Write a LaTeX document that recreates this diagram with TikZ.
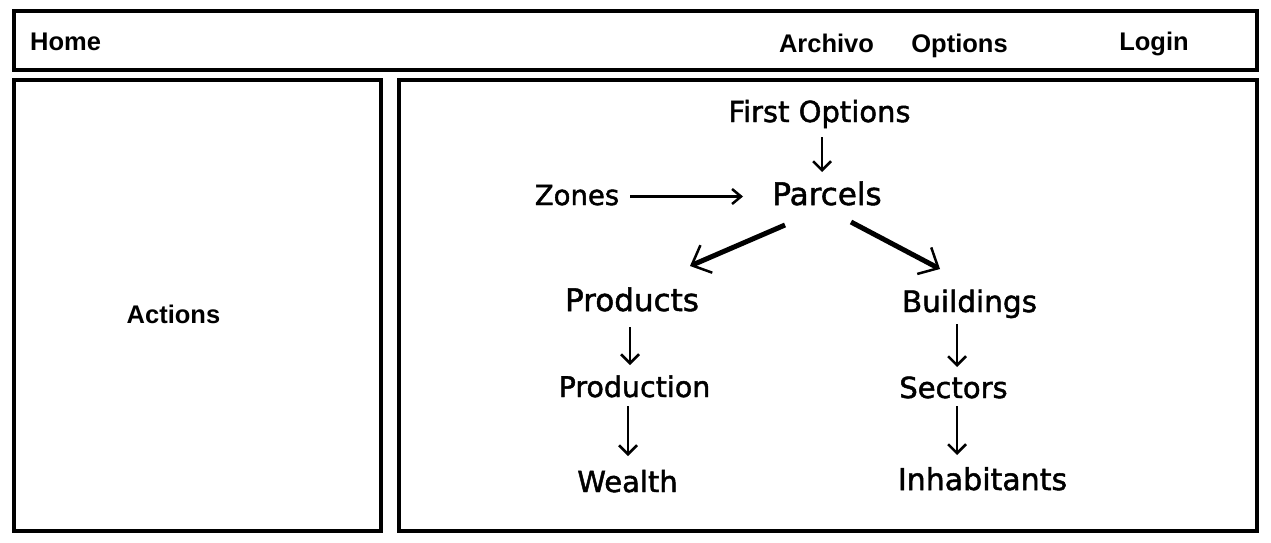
\documentclass[tikz,border=0pt]{standalone}
\usepackage{fontspec}
\setmainfont{DejaVu Sans}[FakeBold=1.6]
\newfontfamily\menufont{Liberation Sans}[UprightFont=* Bold]
\usetikzlibrary{arrows.meta,calc}
\tikzset{
  panel/.style={draw=black,line width=4pt},
  menu/.style={anchor=base,inner sep=0pt,font=\fontsize{25.5}{27}\selectfont\menufont},
  lbl/.style={anchor=base,inner sep=0pt},
  arr/.style={line width=2.5pt,-{Straight Barb[length=9pt,width=18pt,line width=2.5pt]}},
  bigarr/.style={line width=5pt,-{Straight Barb[length=16pt,width=30pt,line width=2.5pt]}},
}
\newcommand{\fs}[1]{\fontsize{#1}{#1}\selectfont}
\begin{document}
\begin{tikzpicture}[x=1pt,y=-1pt]
\useasboundingbox (0,0) rectangle (1271,542);
% panels
\draw[panel] (14,11) rectangle (1257,70);
\draw[panel] (14,80) rectangle (381,531);
\draw[panel] (399,80) rectangle (1257,531);
% menu
\node[menu,anchor=base west] (home) at (30,50) {Home};
\node[menu] (arch) at (826.5,52) {Archivo};
\node[menu] (opt) at (959.5,52) {Options};
\node[menu] (login) at (1154,50) {Login};
\node[menu] (act) at (173.5,323) {Actions};
% diagram
\node[lbl,font=\fs{29}] (fo) at (819.5,122) {First Options};
\node[lbl,font=\fs{31}] (pa) at (827,205) {Parcels};
\node[lbl,font=\fs{27.5}] (zo) at (577,205) {Zones};
\node[lbl,font=\fs{31}] (pr) at (632,311) {Products};
\node[lbl,font=\fs{29.5}] (bu) at (969.5,312) {Buildings};
\node[lbl,font=\fs{28.5}] (pn) at (634.5,397) {Production};
\node[lbl,font=\fs{29}] (se) at (953.5,398) {Sectors};
\node[lbl,font=\fs{29}] (we) at (627.5,492) {Wealth};
\node[lbl,font=\fs{30}] (in) at (982.5,490) {Inhabitants};
% connectors
\draw[arr] ($(fo.base)+(2.5,15)$) -- ($(pa.base)+(-5,-33)$);
\draw[arr,-{Straight Barb[length=9pt,width=15pt,line width=2.5pt]}] ($(zo.base)+(53,-8.5)$) -- ($(pa.base)+(-84,-8.5)$);
\draw[bigarr] ($(pa.base)+(-42,20)$) -- ($(pr.base)+(58,-45)$);
\draw[bigarr] ($(pa.base)+(24,17)$) -- ($(bu.base)+(-29.5,-43)$);
\draw[arr] ($(pr.base)+(-2,16)$) -- ($(pn.base)+(-4.5,-32)$);
\draw[arr] ($(pn.base)+(-6.5,9)$) -- ($(we.base)+(0.5,-36)$);
\draw[arr] ($(bu.base)+(-12.5,12)$) -- ($(se.base)+(3.5,-31)$);
\draw[arr] ($(se.base)+(3.5,8)$) -- ($(in.base)+(-25.5,-35)$);
\end{tikzpicture}
\end{document}
